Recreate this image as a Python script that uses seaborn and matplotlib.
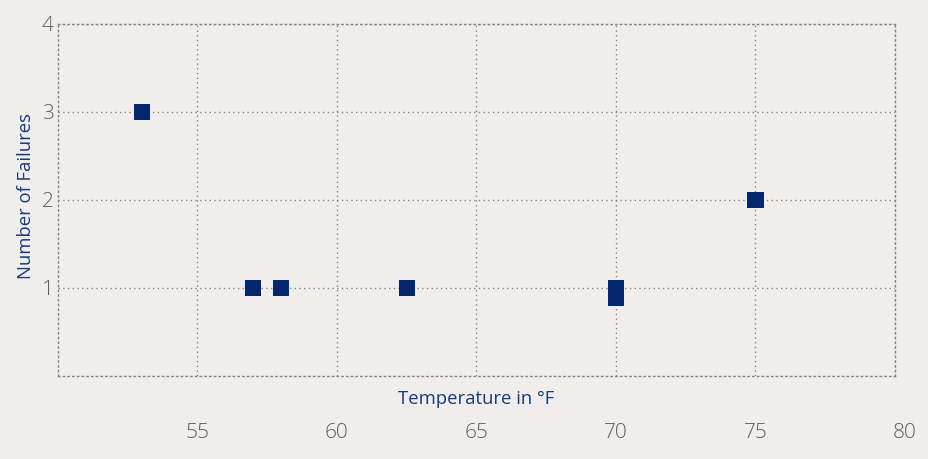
import matplotlib

matplotlib.use("Agg")

import matplotlib.pyplot as plt
import matplotlib.transforms as mtransforms
import pandas as pd
import seaborn as sns

# launch temperature (deg F) and number of O-ring failures
temperature = [53, 57, 58, 62.5, 70, 70, 75]
failures = [3, 1, 1, 1, 1, 0.89, 2]

x_ticks = [55, 60, 65, 70, 75, 80]
y_ticks = [1, 2, 3, 4]

BG = "#efeeec"
NAVY = "#05266a"
LABEL_BLUE = "#1b3a78"
TICK_GREY = "#5e5e5e"
GRID = "#8f8275"

sns.set_style("white")
plt.rcParams["font.family"] = ["Open Sans", "DejaVu Sans"]

df = pd.DataFrame({"temperature": temperature, "failures": failures})

fig = plt.figure(figsize=(9.29, 4.59), dpi=100, facecolor=BG)
ax = fig.add_axes([0.0624, 0.1808, 0.901, 0.767])
ax.set_facecolor(BG)

sns.scatterplot(
    data=df,
    x="temperature",
    y="failures",
    marker="s",
    s=133,
    color=NAVY,
    edgecolor="none",
    linewidth=0,
    ax=ax,
    zorder=3,
)

ax.set_xlim(50, 80)
ax.set_ylim(0, 4)
ax.set_xticks(x_ticks)
ax.set_yticks(y_ticks)
ax.set_xticklabels([str(t) for t in x_ticks], fontweight="light")
ax.set_yticklabels([str(t) for t in y_ticks], fontweight="light")

ax.grid(True, color=GRID, linestyle=(0, (1, 2.4)), linewidth=1.0)
for side in ["top", "bottom", "left", "right"]:
    ax.spines[side].set_visible(True)
    ax.spines[side].set_color(GRID)
    ax.spines[side].set_linestyle((0, (1, 2.4)))
    ax.spines[side].set_linewidth(1.0)

ax.tick_params(axis="x", length=0, pad=34, labelsize=15, labelcolor=TICK_GREY)
ax.tick_params(axis="y", length=0, pad=3, labelsize=15, labelcolor=TICK_GREY)

# the last x label sits a little to the right in the original
last = ax.get_xticklabels()[-1]
last.set_transform(last.get_transform() + mtransforms.ScaledTranslation(10 / 100, 0, fig.dpi_scale_trans))

ax.set_xlabel("Temperature in °F", fontsize=13.3, color=LABEL_BLUE, labelpad=-38)
ax.set_ylabel("Number of Failures", fontsize=13.3, color=LABEL_BLUE)
ax.yaxis.set_label_coords(-0.027, 0.51)

fig.savefig("out.png", dpi=100, facecolor=BG)
plt.close(fig)
